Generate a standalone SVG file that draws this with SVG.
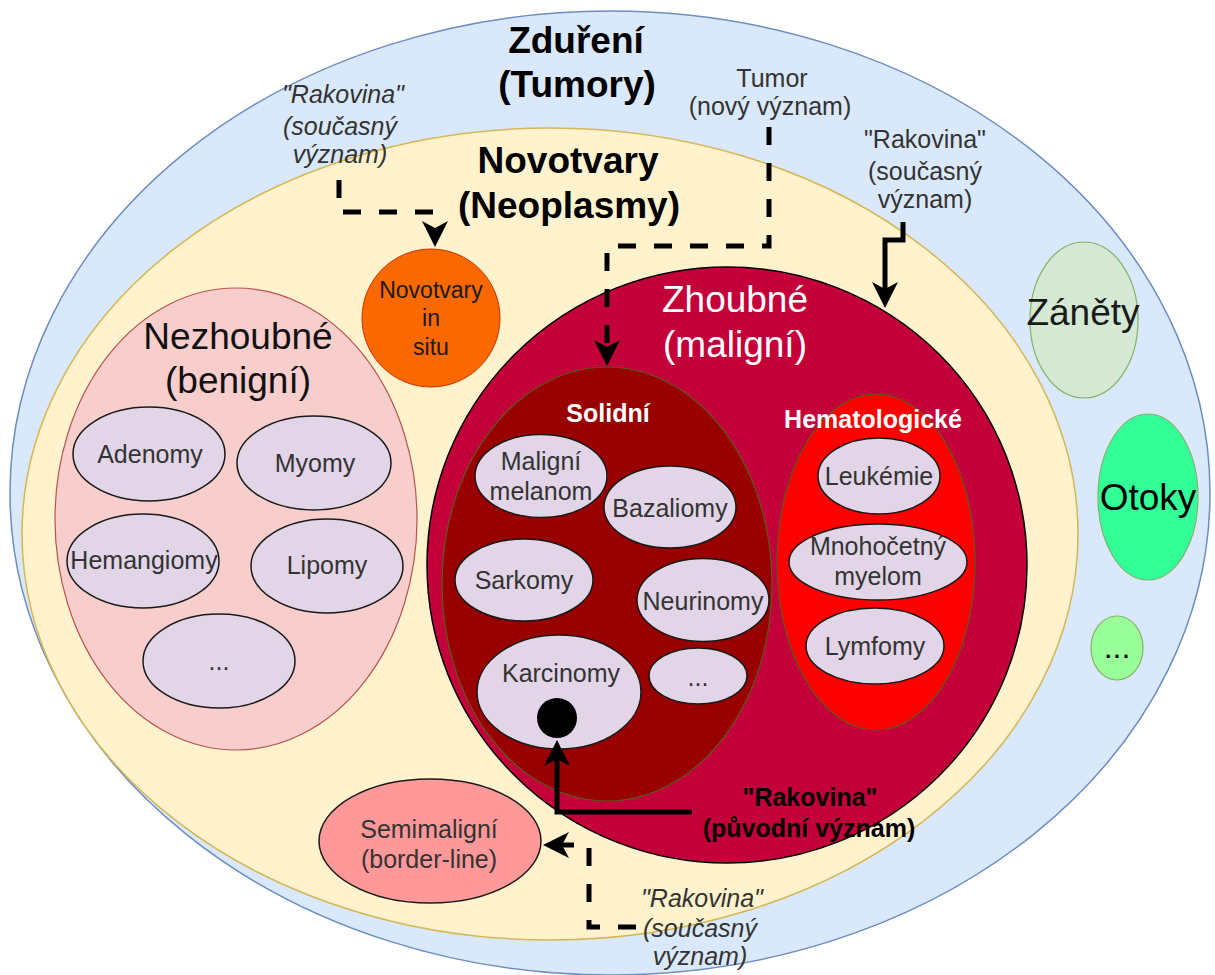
<svg xmlns="http://www.w3.org/2000/svg" width="1215" height="975" viewBox="0 0 1215 975">
<style>
text{font-family:"Liberation Sans",Arial,sans-serif;text-anchor:middle}
.big{font-size:37px}
.bb{font-size:37px;font-weight:bold}
.s{font-size:25px;fill:#333}
.si{font-size:25px;fill:#333;font-style:italic}
.sb{font-size:25px;font-weight:bold}
.w{fill:#fff}
.sub{fill:#e1d5e7;stroke:#1a1a1a;stroke-width:1.5}
.ln{fill:none;stroke:#000;stroke-width:5}
.dash{stroke-dasharray:18 18}
</style>
<defs>
<marker id="arr" markerUnits="userSpaceOnUse" markerWidth="26" markerHeight="26" viewBox="0 0 26 26" refX="12" refY="13" orient="auto">
<path d="M0,0 L26,13 L0,26 L7,13 Z" fill="#000"/>
</marker>
</defs>
<g id="zdureni"><ellipse cx="610" cy="493" rx="600" ry="482" fill="#dae8fc" stroke="#6c8ebf" stroke-width="1.5"/></g>
<g id="novotvary"><ellipse cx="550" cy="534" rx="528" ry="406" fill="#fff2cc" stroke="#d6b656" stroke-width="1.5"/></g>
<g id="nezhoubne"><ellipse cx="236" cy="519" rx="181" ry="231" fill="#f8cecc" stroke="#b85450" stroke-width="1.2"/>
<text class="big" x="238" y="349" fill="#111">Nezhoubné</text><text class="big" x="238" y="393" fill="#111">(benigní)</text></g>
<g id="adenomy"><ellipse class="sub" cx="149" cy="454" rx="76" ry="47"/><text class="s" x="150" y="463">Adenomy</text></g>
<g id="myomy"><ellipse class="sub" cx="314" cy="463" rx="77" ry="47"/><text class="s" x="315" y="472">Myomy</text></g>
<g id="hemangiomy"><ellipse class="sub" cx="143" cy="561" rx="76" ry="47"/><text class="s" x="144" y="569">Hemangiomy</text></g>
<g id="lipomy"><ellipse class="sub" cx="327" cy="566" rx="76" ry="47"/><text class="s" x="327" y="574">Lipomy</text></g>
<g id="benign-more"><ellipse class="sub" cx="219" cy="661" rx="76" ry="47"/><text class="s" x="219" y="670">...</text></g>
<g id="insitu"><circle cx="431" cy="318" r="69" fill="#fa6800" stroke="#c73500" stroke-width="1"/>
<text x="431" y="298" font-size="23" fill="#1a1a1a">Novotvary</text><text x="431" y="326" font-size="23" fill="#1a1a1a">in</text><text x="431" y="355" font-size="23" fill="#1a1a1a">situ</text></g>
<g id="zhoubne"><ellipse cx="727" cy="565" rx="300" ry="298" fill="#c4003a" stroke="#000" stroke-width="1.5"/>
<text class="big w" x="735" y="312">Zhoubné</text><text class="big w" x="735" y="357">(maligní)</text></g>
<g id="solidni"><ellipse cx="607" cy="584" rx="165" ry="217" fill="#990000" stroke="#5c5a1e" stroke-width="1.2"/>
<text class="sb w" x="608" y="422">Solidní</text></g>
<g id="melanom"><ellipse class="sub" cx="541" cy="476" rx="66" ry="41.5"/><text class="s" x="541" y="470">Maligní</text><text class="s" x="541" y="500">melanom</text></g>
<g id="bazaliomy"><ellipse class="sub" cx="670" cy="507" rx="66" ry="41"/><text class="s" x="670" y="517">Bazaliomy</text></g>
<g id="sarkomy"><ellipse class="sub" cx="524" cy="580" rx="69" ry="41"/><text class="s" x="524" y="589">Sarkomy</text></g>
<g id="neurinomy"><ellipse class="sub" cx="703" cy="600" rx="66" ry="41.5"/><text class="s" x="703" y="610">Neurinomy</text></g>
<g id="karcinomy"><ellipse class="sub" cx="559" cy="692" rx="82" ry="57"/><text class="s" x="561" y="682">Karcinomy</text>
<circle cx="557" cy="718" r="20" fill="#000"/></g>
<g id="solid-more"><ellipse class="sub" cx="698" cy="676" rx="49" ry="28"/><text class="s" x="698" y="686">...</text></g>
<g id="hemato"><ellipse cx="876" cy="562" rx="99" ry="168" fill="#ff0000" stroke="#5c5a1e" stroke-width="1.2"/>
<text class="sb w" x="873" y="428">Hematologické</text></g>
<g id="leukemie"><ellipse class="sub" cx="879" cy="476" rx="61" ry="38"/><text class="s" x="879" y="485">Leukémie</text></g>
<g id="myelom"><ellipse class="sub" cx="878" cy="562" rx="89" ry="38"/><text class="s" x="878" y="555">Mnohočetný</text><text class="s" x="878" y="585">myelom</text></g>
<g id="lymfomy"><ellipse class="sub" cx="875" cy="646" rx="69" ry="38"/><text class="s" x="875" y="655">Lymfomy</text></g>
<g id="semimaligni"><ellipse cx="430" cy="841" rx="111" ry="62" fill="#ff9999" stroke="#1a1a1a" stroke-width="1.5"/>
<text class="s" x="429" y="838">Semimaligní</text><text class="s" x="429" y="868">(border-line)</text></g>
<g id="zanety"><ellipse cx="1084" cy="320" rx="54" ry="78" fill="#d5e8d4" stroke="#82b366" stroke-width="1.2"/><text class="big" x="1083" y="325" fill="#1a1a1a">Záněty</text></g>
<g id="otoky"><ellipse cx="1148" cy="497" rx="50" ry="83" fill="#33ff99" stroke="#82b366" stroke-width="1.2"/><text class="big" x="1148" y="510">Otoky</text></g>
<g id="other-more"><ellipse cx="1117" cy="648" rx="26" ry="32" fill="#99ff99" stroke="#82b366" stroke-width="1.2"/><text x="1117" y="658" font-size="32">...</text></g>
<g id="connectors">
<path class="ln dash" d="M339,180 V212 H435 V233" marker-end="url(#arr)"/>
<path class="ln dash" d="M769,127 V246 H607 V352" marker-end="url(#arr)"/>
<path class="ln" d="M903,222 V240 H885 V294" marker-end="url(#arr)"/>
<path class="ln" d="M692,812 H557 V754" marker-end="url(#arr)"/>
<path class="ln dash" d="M636,927 H589 V845 H557" marker-end="url(#arr)"/>
</g>
<g id="labels">
<text class="bb" x="576" y="53">Zduření</text><text class="bb" x="577" y="97">(Tumory)</text>
<text class="bb" x="568" y="173">Novotvary</text><text class="bb" x="569" y="218">(Neoplasmy)</text>
<text class="si" x="343" y="103">"Rakovina"</text><text class="si" x="340" y="135">(současný</text><text class="si" x="340" y="163">význam)</text>
<text class="s" x="772" y="87">Tumor</text><text class="s" x="770" y="115">(nový význam)</text>
<text class="s" x="925" y="148">"Rakovina"</text><text class="s" x="925" y="180">(současný</text><text class="s" x="925" y="208">význam)</text>
<text class="sb" x="810" y="806">"Rakovina"</text><text class="sb" x="809" y="837">(původní význam)</text>
<text class="si" x="702" y="907">"Rakovina"</text><text class="si" x="700" y="937">(současný</text><text class="si" x="700" y="965">význam)</text>
</g>
</svg>
